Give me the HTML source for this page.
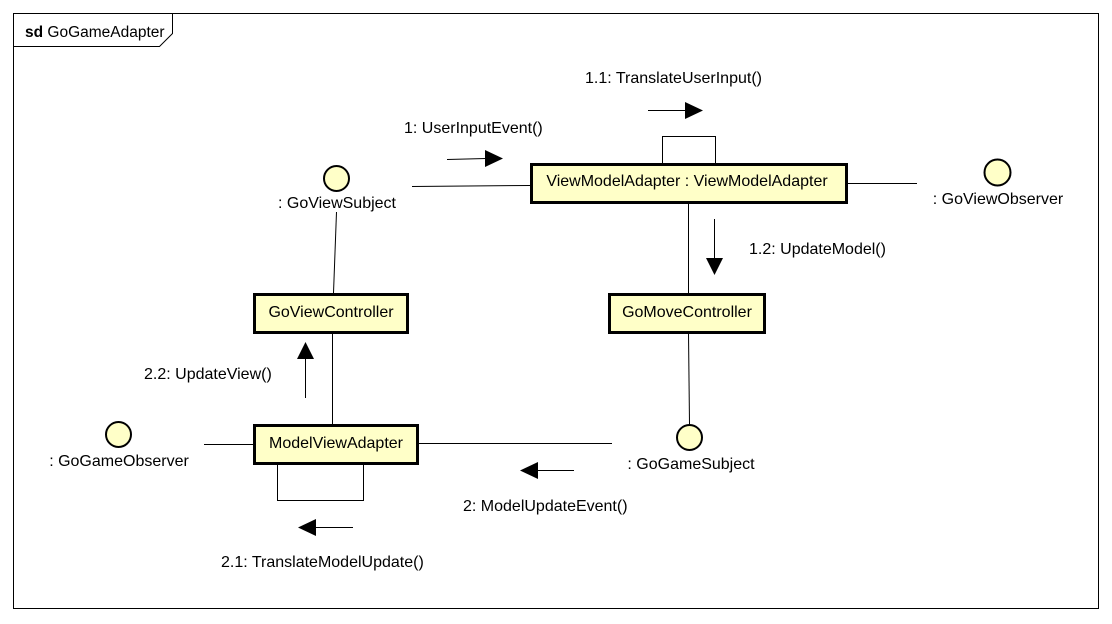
<!DOCTYPE html>
<html><head><meta charset="utf-8"><style>html,body{margin:0;padding:0;background:#fff}svg{display:block}</style></head>
<body>
<svg width="1112" height="624" viewBox="0 0 1112 624" xmlns="http://www.w3.org/2000/svg" font-family="Liberation Sans, Arial, sans-serif" font-size="16">
<rect x="13.5" y="13.5" width="1085" height="595" fill="#fff" stroke="#000" stroke-width="1"/>
<path d="M13.5 46.5 H159.5 L172.5 33.5 V13.5" fill="none" stroke="#000"/>
<text x="25" y="37" font-size="15.5"><tspan font-weight="bold">sd</tspan> GoGameAdapter</text>
<g stroke="#000" stroke-width="1" fill="none">
<line x1="412" y1="186.5" x2="530" y2="185.5"/>
<line x1="848" y1="183.5" x2="917" y2="183.5"/>
<line x1="336.5" y1="212" x2="333.5" y2="293"/>
<line x1="688.5" y1="203" x2="688.5" y2="293"/>
<line x1="332.5" y1="333" x2="332.5" y2="424"/>
<line x1="688.5" y1="333" x2="689.5" y2="424"/>
<line x1="204" y1="444.5" x2="253" y2="444.5"/>
<line x1="419" y1="443.5" x2="612" y2="443.5"/>
<path d="M662.5 163 V136.5 H715.5 V163"/>
<path d="M277.5 464 V500.5 H363.5 V464"/>
<line x1="447" y1="159.5" x2="486" y2="158.5"/>
<line x1="648" y1="110.5" x2="686" y2="110.5"/>
<line x1="714.5" y1="219" x2="714.5" y2="258"/>
<line x1="305.5" y1="398" x2="305.5" y2="359"/>
<line x1="574" y1="470.5" x2="537" y2="470.5"/>
<line x1="353" y1="527.5" x2="315" y2="527.5"/>
</g>
<g fill="#000">
<polygon points="485,150 503,158.5 485,167"/>
<polygon points="685,102 703,110.5 685,119"/>
<polygon points="706,258 723,258 714.5,275"/>
<polygon points="297,359 314,359 305.5,342"/>
<polygon points="538,462 538,479 520,470.5"/>
<polygon points="316,519 316,536 298,527.5"/>
</g>
<g fill="#ffffc8" stroke="#000" stroke-width="3">
<rect x="531.5" y="164.5" width="315" height="38"/>
<rect x="254.5" y="294.5" width="153" height="38"/>
<rect x="609.5" y="294.5" width="155" height="38"/>
<rect x="254.5" y="425.5" width="163" height="38"/>
</g>
<g fill="#ffffc8" stroke="#000" stroke-width="2">
<circle cx="336.5" cy="178.5" r="12.5"/>
<circle cx="997.5" cy="172.5" r="13"/>
<circle cx="118.5" cy="434.5" r="12.5"/>
<circle cx="689.5" cy="437.5" r="12.5"/>
</g>
<g fill="#000">
<text x="687" y="186" text-anchor="middle">ViewModelAdapter : ViewModelAdapter</text>
<text x="331" y="317" text-anchor="middle">GoViewController</text>
<text x="687" y="317" text-anchor="middle">GoMoveController</text>
<text x="336" y="448" text-anchor="middle">ModelViewAdapter</text>
<text x="337" y="208" text-anchor="middle">: GoViewSubject</text>
<text x="998" y="204" text-anchor="middle">: GoViewObserver</text>
<text x="119" y="466" text-anchor="middle">: GoGameObserver</text>
<text x="691" y="469" text-anchor="middle">: GoGameSubject</text>
<text x="404" y="133">1: UserInputEvent()</text>
<text x="585" y="83">1.1: TranslateUserInput()</text>
<text x="749" y="254">1.2: UpdateModel()</text>
<text x="144" y="379">2.2: UpdateView()</text>
<text x="463" y="511">2: ModelUpdateEvent()</text>
<text x="221" y="567">2.1: TranslateModelUpdate()</text>
</g>
</svg>
</body></html>
